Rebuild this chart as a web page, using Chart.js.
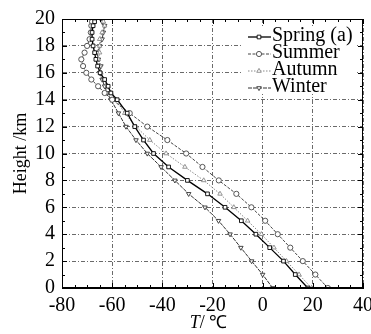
<!DOCTYPE html>
<html>
<head>
<meta charset="utf-8">
<script src="https://cdn.jsdelivr.net/npm/chart.js@4.4.0/dist/chart.umd.min.js"></script>
<style>
html,body{margin:0;padding:0;background:#fff;}
#wrap{width:371px;height:334px;position:relative;}
</style>
</head>
<body>
<div id="wrap"><canvas id="c" width="371" height="334"></canvas></div>
<script>
// Heights (km)
const heights = [0,1,2,3,4,5,6,7,8,9,10,11,12,13,14,14.5,15,15.5,16,16.5,17,17.5,18,18.5,19,19.5,19.8];
// Temperatures (°C) per season
const spring = [18,13,8.3,2.8,-2.7,-8.5,-15,-22,-30,-37.5,-43.5,-47.5,-51,-54,-58,-60.5,-61.6,-63,-64.8,-65.8,-66.5,-67,-67.6,-68,-68,-67.6,-67];
const summer = [26,21,16,11,6,1,-4.5,-10.5,-17.5,-24,-30.5,-38,-46,-53,-60,-63,-65.6,-68.3,-70.3,-71.6,-72.3,-71,-70,-69,-68.5,-68.3,-68];
const autumn = [19.5,14.5,9.5,4.5,-0.5,-6,-11.5,-17,-23.5,-31,-38.5,-45,-50.5,-55,-58.5,-60.5,-62,-63.5,-64.5,-65,-65.5,-65,-65,-65,-64,-63,-63.5];
const winter = [4,0,-4.4,-8.7,-13,-17.6,-23,-29.5,-35,-40.5,-46,-50.5,-54.5,-57.5,-60.5,-62,-63,-64,-65,-64.5,-65.5,-66,-65,-64,-63.5,-63,-64];
const seriesLabels = ['Spring','Summer','Autumn','Winter'];
const xTicks = [-80,-60,-40,-20,0,20,40];
const yTicks = [0,2,4,6,8,10,12,14,16,18,20];
const xTitleItalic = 'T';
const xTitleRest = '/ \u2103';
const yTitle = 'Height /km';
const panelLabel = '(a)';

const FONT = "'Liberation Serif','Times New Roman',serif";
function pts(arr){ return arr.map((t,i)=>({x:t,y:heights[i]})); }

const styles = [
  {color:'#000', dash:[], width:1.3, pt:'rect', rot:0},
  {color:'#444', dash:[3,1.5], width:1, pt:'circle', rot:0},
  {color:'#8a8a8a', dash:[1.5,1.5], width:1, pt:'triangle', rot:0},
  {color:'#333', dash:[4,1], width:1, pt:'triangle', rot:180}
];
const allData = [spring, summer, autumn, winter];

const datasets = allData.map((d,i)=>({
  label: seriesLabels[i],
  data: pts(d),
  showLine: true,
  borderColor: styles[i].color,
  borderWidth: styles[i].width,
  borderDash: styles[i].dash,
  pointStyle: styles[i].pt,
  pointRotation: styles[i].rot,
  pointRadius: 2.6,
  pointBackgroundColor: '#fff',
  pointBorderColor: styles[i].color,
  pointBorderWidth: 0.9,
  tension: 0
}));

const frameTicks = {
  id:'frameTicks',
  afterDatasetsDraw(chart){
    const ctx = chart.ctx, a = chart.chartArea;
    const xs = chart.scales.x, ys = chart.scales.y;
    ctx.save();
    ctx.strokeStyle = '#000'; ctx.lineWidth = 1; ctx.setLineDash([]);
    ctx.strokeRect(a.left+0.5, a.top+0.5, a.right-a.left-1, a.bottom-a.top-1);
    ctx.beginPath();
    for(let v=-80; v<=40; v+=5){
      const p = Math.round(xs.getPixelForValue(v))+0.5;
      const L = (v%20===0)?5:3;
      ctx.moveTo(p,a.bottom); ctx.lineTo(p,a.bottom-L);
      ctx.moveTo(p,a.top); ctx.lineTo(p,a.top+L);
    }
    for(let v=0; v<=20; v+=1){
      const p = Math.round(ys.getPixelForValue(v))+0.5;
      const L = (v%2===0)?5:3;
      ctx.moveTo(a.left,p); ctx.lineTo(a.left+L,p);
      ctx.moveTo(a.right,p); ctx.lineTo(a.right-L,p);
    }
    ctx.stroke();

    // legend box
    const bx=243, by=27, bw=113, bh=67;
    ctx.fillStyle='#fff';
    ctx.fillRect(bx,by,bw,bh);
    const rows=[36,53,70,87];
    chart.data.datasets.forEach((ds,i)=>{
      const y=rows[i];
      ctx.save();
      ctx.strokeStyle=ds.borderColor; ctx.lineWidth=ds.borderWidth; ctx.setLineDash(ds.borderDash);
      ctx.beginPath(); ctx.moveTo(248,y+1); ctx.lineTo(271,y+1); ctx.stroke();
      ctx.restore();
      ctx.save();
      ctx.fillStyle='#fff'; ctx.strokeStyle=ds.borderColor; ctx.lineWidth=0.9; ctx.setLineDash([]);
      Chart.helpers.drawPoint(ctx,{pointStyle:ds.pointStyle,rotation:ds.pointRotation,radius:2.6,borderWidth:0.9},259,y+1);
      ctx.restore();
      ctx.fillStyle='#000'; ctx.font='20px '+FONT; ctx.textBaseline='middle'; ctx.textAlign='left';
      ctx.fillText(ds.label + (i===0 ? ' '+panelLabel : ''), 272, y);
    });

    // axis titles
    ctx.fillStyle='#000';
    ctx.textBaseline='middle';
    ctx.font='italic 18px '+FONT;
    const w1 = ctx.measureText(xTitleItalic).width;
    ctx.font='18px '+FONT;
    const w2 = ctx.measureText(xTitleRest).width;
    const cx = (a.left+a.right)/2 - 4;
    let sx = cx-(w1+w2)/2;
    ctx.font='italic 18px '+FONT; ctx.textAlign='left';
    ctx.fillText(xTitleItalic, sx, 323);
    ctx.font='18px '+FONT;
    ctx.fillText(xTitleRest, sx+w1, 323);
    ctx.save();
    ctx.translate(21,(a.top+a.bottom)/2);
    ctx.rotate(-Math.PI/2);
    ctx.textAlign='center';
    ctx.fillText(yTitle,0,0);
    ctx.restore();
    ctx.restore();
  }
};

new Chart(document.getElementById('c'), {
  type:'scatter',
  data:{datasets},
  options:{
    responsive:false,
    animation:false,
    devicePixelRatio:1,
    layout:{padding:{top:19,right:0,left:0,bottom:0}},
    plugins:{legend:{display:false}, tooltip:{enabled:false}},
    scales:{
      x:{
        type:'linear', min:-80, max:40,
        afterBuildTicks(s){ s.ticks = xTicks.map(v=>({value:v})); },
        afterFit(s){ s.height = 46; s.paddingRight = 8; s.paddingLeft = 0; },
        ticks:{color:'#000', font:{family:FONT,size:20}, padding:6, maxRotation:0, autoSkip:false},
        grid:{color:'#6a6a6a', lineWidth:1, drawTicks:false},
        border:{display:true, color:'#000', dash:[4,2,1,2]}
      },
      y:{
        type:'linear', min:0, max:20,
        afterBuildTicks(s){ s.ticks = yTicks.map(v=>({value:v})); },
        afterFit(s){ s.width = 62; s.paddingTop = 0; s.paddingBottom = 0; },
        ticks:{color:'#000', font:{family:FONT,size:20}, padding:7, autoSkip:false},
        grid:{color:'#6a6a6a', lineWidth:1, drawTicks:false},
        border:{display:true, color:'#000', dash:[4,2,1,2]}
      }
    }
  },
  plugins:[frameTicks]
});
</script>
</body>
</html>
